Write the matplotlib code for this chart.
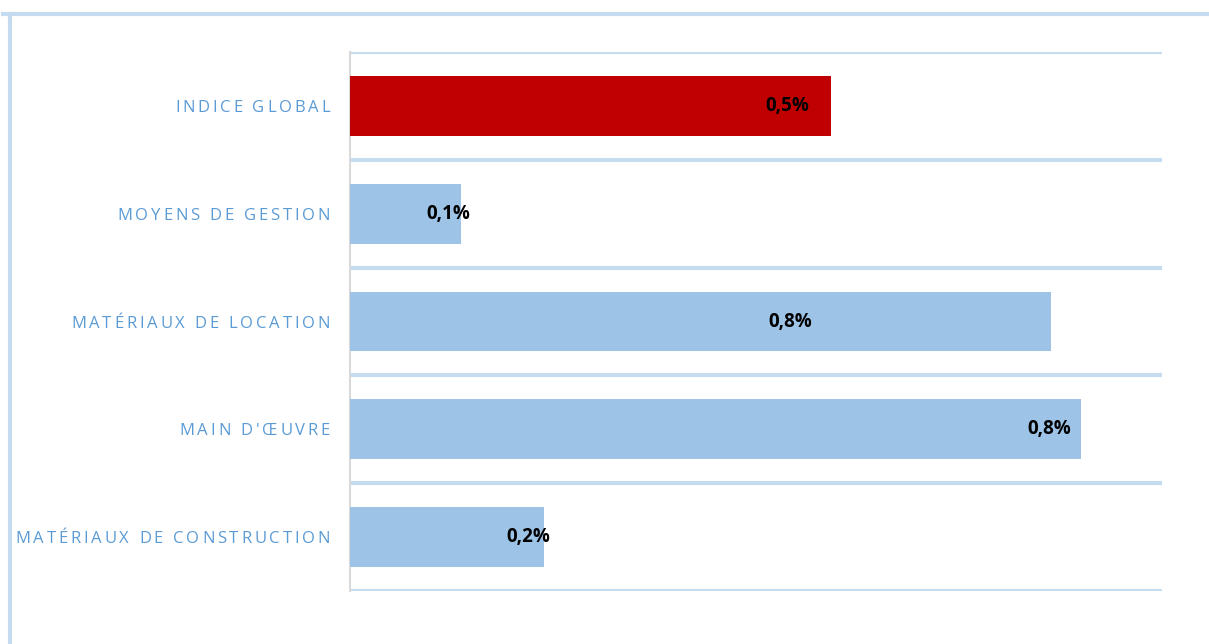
import matplotlib.pyplot as plt
from matplotlib.lines import Line2D
from matplotlib.font_manager import FontProperties

categories = ["INDICE GLOBAL", "MOYENS DE GESTION", "MATÉRIAUX DE LOCATION",
              "MAIN D'ŒUVRE", "MATÉRIAUX DE CONSTRUCTION"]
values = [0.533, 0.123, 0.777, 0.81, 0.215]
value_labels = ["0,5%", "0,1%", "0,8%", "0,8%", "0,2%"]
bar_colors = ["#C00000", "#9DC3E6", "#9DC3E6", "#9DC3E6", "#9DC3E6"]
# where the right edge of each value label sits, in pixels from the bar end
label_shift = [-22, 9, -239, -10, 6]

plt.rcParams['font.family'] = ['Open Sans', 'DejaVu Sans']

W, H = 1209, 644
fig = plt.figure(figsize=(W / 100, H / 100), dpi=100)
ax = fig.add_axes([350 / W, 1 - 591 / H, 812 / W, 539 / H])

ypos = list(range(len(categories)))
ax.barh(ypos, values, height=0.555, color=bar_colors, zorder=3)

for i, (v, lab, dx) in enumerate(zip(values, value_labels, label_shift)):
    ax.annotate(lab, (v, i), xytext=(dx * 0.72, 0), textcoords="offset points",
                ha="right", va="center", fontsize=13.5, fontweight="bold",
                color="black", zorder=4)

for b in range(len(categories) + 1):
    ax.axhline(b - 0.5, color="#C5DCF0", linewidth=3, zorder=1)

ax.set_xlim(0, 0.9)
ax.set_ylim(len(categories) - 0.5, -0.5)
ax.set_yticks([])
ax.set_xticks([])
for s in ["top", "right", "bottom"]:
    ax.spines[s].set_visible(False)
ax.spines["left"].set_color("#D9D9D9")
ax.spines["left"].set_linewidth(1.5)

# category labels with Excel-like expanded letter spacing, drawn glyph by glyph
renderer = fig.canvas.get_renderer()
fp = FontProperties(family=['Open Sans', 'DejaVu Sans'], size=12)
tracking = 2.8
right_px = 330
for i, cat in enumerate(categories):
    y_px = ax.transData.transform((0, i))[1]
    x = right_px
    for ch in reversed(cat):
        w, _, _ = renderer.get_text_width_height_descent(ch, fp, ismath=False)
        x -= w
        fig.text(x / W, y_px / H, ch, fontproperties=fp, color="#5B9BD5",
                 ha="left", va="center_baseline")
        x -= tracking

# outer frame of the chart area
fig.add_artist(Line2D([3 / W, 1], [1 - 14 / H, 1 - 14 / H],
                      color="#C5DCF0", linewidth=3, transform=fig.transFigure))
fig.add_artist(Line2D([10 / W, 10 / W], [0, 1 - 14 / H],
                      color="#C5DCF0", linewidth=3, transform=fig.transFigure))

fig.savefig("out.png", dpi=100, facecolor="white")
